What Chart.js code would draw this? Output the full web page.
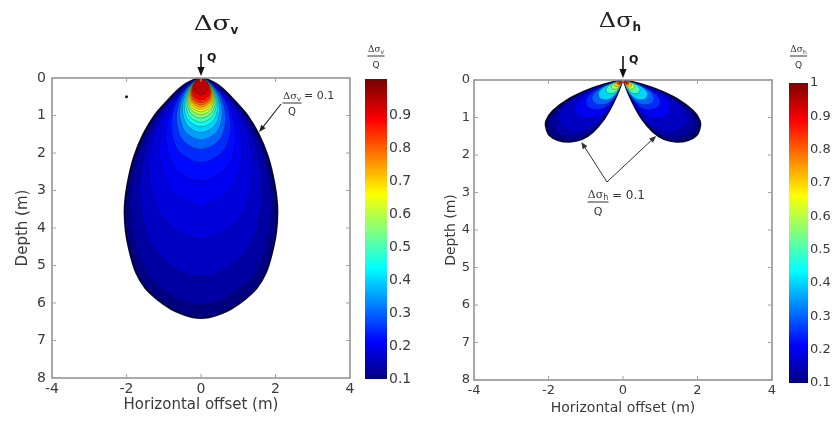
<!DOCTYPE html>
<html>
<head>
<meta charset="utf-8">
<script src="https://cdn.jsdelivr.net/npm/chart.js@4.4.1/dist/chart.umd.min.js"></script>
<style>
  html, body { margin: 0; padding: 0; background: #fff; }
  #wrap { position: relative; width: 832px; height: 421px; overflow: hidden; }
  #wrap canvas { position: absolute; top: 0; }
</style>
</head>
<body>
<div id="wrap">
  <canvas id="mainV" width="360" height="421" style="left:0"></canvas>
  <canvas id="cbarV" width="60" height="421" style="left:360px"></canvas>
  <canvas id="mainH" width="370" height="421" style="left:420px"></canvas>
  <canvas id="cbarH" width="48" height="421" style="left:784px"></canvas>
</div>
<script>
// ---- data ----
// outer dsv/Q = 0.1 bulb, right half, from the load point down (x in m, depth in m)
const bulbX = [0, 0.2, 0.4, 0.6, 0.9, 1.25, 1.55, 1.8, 1.97, 2.05, 2.02, 1.9, 1.74, 1.5, 1.18, 0.82, 0.5, 0.22, 0];
const bulbZ = [0, 0.05, 0.15, 0.3, 0.6, 1.0, 1.5, 2.1, 2.8, 3.45, 4.1, 4.7, 5.2, 5.6, 5.9, 6.15, 6.3, 6.38, 6.4];
// contour levels of dsv/Q with their bottom depth and half width
const levelsV = [0.1, 0.13, 0.16, 0.18, 0.2, 0.22, 0.25, 0.3, 0.35, 0.4, 0.45, 0.5, 0.55, 0.6, 0.65, 0.7, 0.75, 0.8, 0.85, 0.9, 0.95];
const depthsV = [6.4, 6.05, 5.3, 4.3, 3.4, 2.75, 2.25, 1.9, 1.65, 1.45, 1.3, 1.18, 1.07, 0.98, 0.9, 0.84, 0.78, 0.72, 0.66, 0.58, 0.45];
const widthsV = [2.05, 1.9, 1.65, 1.4, 1.12, 0.94, 0.8, 0.66, 0.57, 0.5, 0.45, 0.41, 0.38, 0.35, 0.33, 0.31, 0.29, 0.27, 0.25, 0.23, 0.19];
const strayDot = [{ x: -2, y: 0.5 }];

// left lobe of dsh/Q = 0.1 (right lobe is its mirror)
const lobeX = [0, -0.34, -0.89, -1.45, -1.88, -2.06, -2.07, -1.98, -1.74, -1.43, -1.1, -0.8, -0.52, -0.32, -0.17, -0.06, 0];
const lobeZ = [0, 0.07, 0.24, 0.5, 0.82, 1.08, 1.25, 1.47, 1.61, 1.65, 1.58, 1.38, 1.06, 0.73, 0.42, 0.14, 0];
const levelsH = [0.1, 0.13, 0.16, 0.2, 0.25, 0.3, 0.4, 0.5, 0.6, 0.7, 0.8, 0.9];
const sizesH = [1, 0.93, 0.84, 0.62, 0.48, 0.4, 0.32, 0.22, 0.15, 0.11, 0.08, 0.06];

const xTicks = [-4, -2, 0, 2, 4];
const depthTicks = [0, 1, 2, 3, 4, 5, 6, 7, 8];
const cbarRangeV = [0.1, 1.012];
const cbarTicksV = [0.1, 0.2, 0.3, 0.4, 0.5, 0.6, 0.7, 0.8, 0.9];
const cbarRangeH = [0.1, 1];
const cbarTicksH = [0.1, 0.2, 0.3, 0.4, 0.5, 0.6, 0.7, 0.8, 0.9, 1];

// annotation arrow tips (data coords)
const tipV = [1.56, 1.44];
const tipsH = [[-1.12, 1.65], [0.89, 1.49]];

// ---- helpers ----
const jet = t => {
  const c = v => Math.round(255 * Math.max(0, Math.min(1, v)));
  return `rgb(${c(1.5 - Math.abs(4 * t - 3))},${c(1.5 - Math.abs(4 * t - 2))},${c(1.5 - Math.abs(4 * t - 1))})`;
};
const tOf = v => (v - 0.1) / 0.9;

function bulb(sx, sz) {
  const right = bulbX.map((x, i) => ({ x: x * sx, y: bulbZ[i] * sz }));
  const left = right.slice(0, -1).reverse().map(p => ({ x: -p.x, y: p.y }));
  return right.concat(left);
}
function lobe(side, s) {
  return lobeX.map((x, i) => ({ x: side * x * s, y: lobeZ[i] * s }));
}
function contour(data, lv, order, outer) {
  return {
    data, showLine: true, fill: 'shape', tension: 0.3, pointRadius: 0,
    backgroundColor: jet(tOf(lv)),
    borderColor: outer ? 'rgba(0,0,40,0.95)' : 'rgba(0,0,25,0.35)',
    borderWidth: outer ? 1.8 : 0.8,
    order
  };
}

function arrow(ctx, x1, y1, x2, y2, head) {
  const a = Math.atan2(y2 - y1, x2 - x1);
  const c = Math.cos(a), s = Math.sin(a);
  ctx.beginPath();
  ctx.moveTo(x1, y1);
  ctx.lineTo(x2 - c * head * 0.7, y2 - s * head * 0.7);
  ctx.stroke();
  ctx.beginPath();
  ctx.moveTo(x2, y2);
  ctx.lineTo(x2 - head * c + head * 0.4 * s, y2 - head * s - head * 0.4 * c);
  ctx.lineTo(x2 - head * c - head * 0.4 * s, y2 - head * s + head * 0.4 * c);
  ctx.closePath();
  ctx.fill();
}

// "Δσ" + subscript, centred on cx
function deltaSigma(ctx, cx, cy, sub, size, subSize, stretch, subFont) {
  ctx.save();
  ctx.textBaseline = 'middle';
  ctx.font = `${size}px "DejaVu Serif"`;
  const w1 = ctx.measureText('Δσ').width * stretch;
  ctx.font = subFont || `bold ${subSize}px "DejaVu Sans"`;
  const w2 = ctx.measureText(sub).width;
  const x0 = cx - (w1 + w2) / 2;
  ctx.save();
  ctx.translate(x0, cy);
  ctx.scale(stretch, 1);
  ctx.font = `${size}px "DejaVu Serif"`;
  ctx.textAlign = 'left';
  ctx.fillText('Δσ', 0, 0);
  ctx.restore();
  ctx.font = subFont || `bold ${subSize}px "DejaVu Sans"`;
  ctx.textAlign = 'left';
  ctx.fillText(sub, x0 + w1, cy + size * 0.3);
  ctx.restore();
}

function fraction(ctx, cx, yNum, yBar, yDen, sub, size) {
  ctx.save();
  ctx.fillStyle = ctx.strokeStyle = '#333';
  deltaSigma(ctx, cx, yNum, sub, size, size * 0.7, 1, `${Math.round(size * 0.7)}px "DejaVu Sans"`);
  ctx.lineWidth = 1;
  ctx.beginPath();
  ctx.moveTo(cx - size * 0.95, yBar);
  ctx.lineTo(cx + size * 0.95, yBar);
  ctx.stroke();
  ctx.font = `${size}px "DejaVu Sans"`;
  ctx.textAlign = 'center';
  ctx.textBaseline = 'middle';
  ctx.fillText('Q', cx, yDen);
  ctx.restore();
}

const frame = {
  id: 'frame',
  afterDatasetsDraw(chart) {
    const { ctx, chartArea: a, scales: { x, y } } = chart;
    ctx.save();
    ctx.strokeStyle = '#8e8e8e';
    ctx.lineWidth = 1.5;
    ctx.strokeRect(a.left, a.top, a.right - a.left, a.bottom - a.top);
    ctx.lineWidth = 1;
    ctx.strokeStyle = '#a0a0a0';
    ctx.beginPath();
    x.ticks.forEach(t => {
      const p = x.getPixelForValue(t.value);
      ctx.moveTo(p, a.bottom); ctx.lineTo(p, a.bottom - 4);
      ctx.moveTo(p, a.top); ctx.lineTo(p, a.top + 4);
    });
    y.ticks.forEach(t => {
      const p = y.getPixelForValue(t.value);
      ctx.moveTo(a.left, p); ctx.lineTo(a.left + 4, p);
      ctx.moveTo(a.right, p); ctx.lineTo(a.right - 4, p);
    });
    ctx.stroke();
    ctx.restore();
  }
};

function loadArrow(ctx, chart, qSize) {
  const px = chart.scales.x.getPixelForValue(0);
  const py = chart.scales.y.getPixelForValue(0);
  ctx.save();
  ctx.strokeStyle = ctx.fillStyle = '#111';
  ctx.lineWidth = 1.6;
  arrow(ctx, px, py - 24, px, py - 2, 9);
  ctx.font = `bold ${qSize}px "DejaVu Sans"`;
  ctx.textBaseline = 'middle';
  ctx.fillText('Q', px + 6, py - 20);
  ctx.restore();
}

function mainOptions(o) {
  const tickFont = { family: 'DejaVu Sans', size: o.tick };
  const titleFont = { family: 'DejaVu Sans', size: o.title };
  return {
    responsive: false,
    animation: false,
    events: [],
    layout: { padding: { top: o.top, right: o.right, left: 0, bottom: 0 } },
    plugins: { legend: { display: false }, tooltip: { enabled: false }, filler: { drawTime: 'beforeDatasetDraw' } },
    scales: {
      x: {
        type: 'linear', min: -4, max: 4,
        afterBuildTicks: s => { s.ticks = xTicks.map(v => ({ value: v })); },
        afterFit: s => { s.height = o.xh; },
        grid: { display: false, drawTicks: false }, border: { display: false },
        ticks: { font: tickFont, color: '#3a3a3a', padding: 3, autoSkip: false, maxRotation: 0 },
        title: { display: true, text: 'Horizontal offset (m)', font: titleFont, color: '#3a3a3a', padding: { top: 0, bottom: o.xtPad } }
      },
      y: {
        type: 'linear', min: 0, max: 8, reverse: true,
        afterBuildTicks: s => { s.ticks = depthTicks.map(v => ({ value: v })); },
        afterFit: s => { s.width = o.yw; },
        grid: { display: false, drawTicks: false }, border: { display: false },
        ticks: { font: tickFont, color: '#3a3a3a', padding: o.ytPadTicks, autoSkip: false },
        title: { display: true, text: 'Depth (m)', font: titleFont, color: '#3a3a3a', padding: { top: o.ytPad, bottom: 0 } }
      }
    }
  };
}

// ---- left panel: Δσv ----
const datasetsV = levelsV.map((lv, i) =>
  contour(bulb(widthsV[i] / widthsV[0], depthsV[i] / depthsV[0]), lv, 100 - i, i === 0));
datasetsV.push({ data: strayDot, pointRadius: 1.6, backgroundColor: '#222', borderWidth: 0, showLine: false, order: 0 });

new Chart(document.getElementById('mainV'), {
  type: 'scatter',
  data: { datasets: datasetsV },
  options: mainOptions({ top: 78, right: 10, xh: 43, yw: 52, tick: 14, title: 15, xtPad: 7, ytPad: 14, ytPadTicks: 6 }),
  plugins: [frame, {
    id: 'decorV',
    afterDraw(chart) {
      const { ctx, scales: { x, y } } = chart;
      ctx.save();
      ctx.fillStyle = '#222';
      deltaSigma(ctx, 216, 25, 'v', 21, 12, 1.25);
      loadArrow(ctx, chart, 11);
      fraction(ctx, 292, 96, 103, 112, 'v', 10);
      ctx.fillStyle = '#333';
      ctx.font = '11px "DejaVu Sans"';
      ctx.textBaseline = 'middle';
      ctx.fillText('= 0.1', 304, 96);
      ctx.strokeStyle = ctx.fillStyle = '#222';
      ctx.lineWidth = 1.1;
      arrow(ctx, 281, 104, x.getPixelForValue(tipV[0]), y.getPixelForValue(tipV[1]), 7);
      ctx.restore();
    }
  }]
});

// ---- right panel: Δσh ----
const datasetsH = [];
levelsH.forEach((lv, i) => {
  datasetsH.push(contour(lobe(1, sizesH[i]), lv, 100 - i, i === 0));
  datasetsH.push(contour(lobe(-1, sizesH[i]), lv, 100 - i, i === 0));
});

new Chart(document.getElementById('mainH'), {
  type: 'scatter',
  data: { datasets: datasetsH },
  options: mainOptions({ top: 80, right: 18, xh: 41, yw: 54, tick: 13, title: 14, xtPad: 4, ytPad: 23, ytPadTicks: 4 }),
  plugins: [frame, {
    id: 'decorH',
    afterDraw(chart) {
      const { ctx, scales: { x, y } } = chart;
      ctx.save();
      ctx.fillStyle = '#222';
      deltaSigma(ctx, 200, 22, 'h', 20, 12, 1.2);
      loadArrow(ctx, chart, 11);
      ctx.strokeStyle = ctx.fillStyle = '#333';
      ctx.lineWidth = 1;
      tipsH.forEach(t => arrow(ctx, 187, 182, x.getPixelForValue(t[0]), y.getPixelForValue(t[1]), 7));
      fraction(ctx, 178, 195, 202, 212, 'h', 11);
      ctx.fillStyle = '#333';
      ctx.font = '12px "DejaVu Sans"';
      ctx.textBaseline = 'middle';
      ctx.fillText('= 0.1', 192, 196);
      ctx.restore();
    }
  }]
});

// ---- colour bars ----
function colorBar(id, range, ticks, pad, yw, fontSize, sub) {
  new Chart(document.getElementById(id), {
    type: 'bar',
    data: {
      labels: [''],
      datasets: [{
        data: [range],
        barPercentage: 1, categoryPercentage: 1, borderWidth: 0,
        backgroundColor: c => {
          const ch = c.chart;
          if (!ch.chartArea) return '#000080';
          const ys = ch.scales.y;
          const g = ch.ctx.createLinearGradient(0, ys.getPixelForValue(0.1), 0, ys.getPixelForValue(1));
          for (let k = 0; k <= 16; k++) g.addColorStop(k / 16, jet(k / 16));
          return g;
        }
      }]
    },
    options: {
      responsive: false,
      animation: false,
      events: [],
      layout: { padding: pad },
      plugins: { legend: { display: false }, tooltip: { enabled: false } },
      scales: {
        x: { display: false },
        y: {
          position: 'right', min: range[0], max: range[1],
          afterBuildTicks: s => { s.ticks = ticks.map(v => ({ value: v })); },
          afterFit: s => { s.width = yw; },
          grid: { display: false, drawTicks: false }, border: { display: false },
          ticks: { font: { family: 'DejaVu Sans', size: fontSize }, color: '#3a3a3a', padding: 2, autoSkip: false, callback: v => String(v) }
        }
      }
    },
    plugins: [{
      id: 'cbarHead',
      afterDraw(chart) {
        const { ctx, chartArea: a } = chart;
        fraction(ctx, (a.left + a.right) / 2, 50, 56, 66, sub, 9);
      }
    }]
  });
}
colorBar('cbarV', cbarRangeV, cbarTicksV, { left: 5, top: 79, bottom: 42, right: 0 }, 33, 14, 'v');
colorBar('cbarH', cbarRangeH, cbarTicksH, { left: 5, top: 83, bottom: 38, right: 0 }, 24, 13, 'h');
</script>
</body>
</html>
